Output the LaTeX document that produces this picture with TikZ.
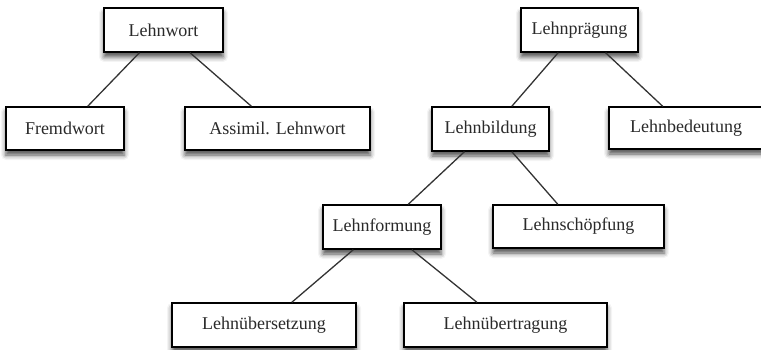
\documentclass[tikz,border=0pt]{standalone}
\usepackage{fontspec}
\setmainfont{Liberation Serif}
\usetikzlibrary{calc,shadows.blur}
\definecolor{txt}{HTML}{2A2A2A}
\definecolor{edge}{HTML}{333333}
\tikzset{
  box/.style={draw=black, line width=1.4pt, fill=white, inner sep=0pt,
    text=txt, font=\fontsize{18}{20}\selectfont,
    blur shadow={shadow xshift=0pt, shadow yshift=-5pt, shadow blur radius=5pt, shadow opacity=70}},
  conn/.style={draw=edge, line width=1.3pt}
}
\begin{document}
\begin{tikzpicture}[x=1pt,y=-1pt]
\useasboundingbox (0,0) rectangle (761,350);
% nodes
\node[box, minimum width=119pt, minimum height=44pt] (lw)  at (163.5,30) {Lehnwort};
\node[box, minimum width=118pt, minimum height=43pt] (fw)  at (65,128.5) {Fremdwort};
\node[box, minimum width=185pt, minimum height=43pt] (al)  at (277.5,128.5) {Assimil. Lehnwort};
\node[box, minimum width=117pt, minimum height=44pt] (lp)  at (579.5,30) {Lehnprägung};
\node[box, minimum width=117pt, minimum height=44pt] (lb)  at (490.5,129) {Lehnbildung};
\node[box, minimum width=154pt, minimum height=42pt] (lbd) at (686,128) {Lehnbedeutung};
\node[box, minimum width=118pt, minimum height=44pt] (lf)  at (382,227) {Lehnformung};
\node[box, minimum width=171pt, minimum height=43pt] (ls)  at (578.5,226.5) {Lehnschöpfung};
\node[box, minimum width=184pt, minimum height=44pt] (lue) at (264,325) {Lehnübersetzung};
\node[box, minimum width=203pt, minimum height=44pt] (lut) at (505.5,325) {Lehnübertragung};
% connectors
\path[conn] ($(lw.south west)!0.30!(lw.south east)$) -- ($(fw.north west)!0.69!(fw.north east)$);
\path[conn] ($(lw.south west)!0.72!(lw.south east)$) -- ($(al.north west)!0.36!(al.north east)$);
\path[conn] ($(lp.south west)!0.32!(lp.south east)$) -- ($(lb.north west)!0.68!(lb.north east)$);
\path[conn] ($(lp.south west)!0.72!(lp.south east)$) -- ($(lbd.north west)!0.35!(lbd.north east)$);
\path[conn] ($(lb.south west)!0.28!(lb.south east)$) -- ($(lf.north west)!0.72!(lf.north east)$);
\path[conn] ($(lb.south west)!0.68!(lb.south east)$) -- ($(ls.north west)!0.38!(ls.north east)$);
\path[conn] ($(lf.south west)!0.26!(lf.south east)$) -- ($(lue.north west)!0.65!(lue.north east)$);
\path[conn] ($(lf.south west)!0.75!(lf.south east)$) -- ($(lut.north west)!0.36!(lut.north east)$);
\end{tikzpicture}
\end{document}
